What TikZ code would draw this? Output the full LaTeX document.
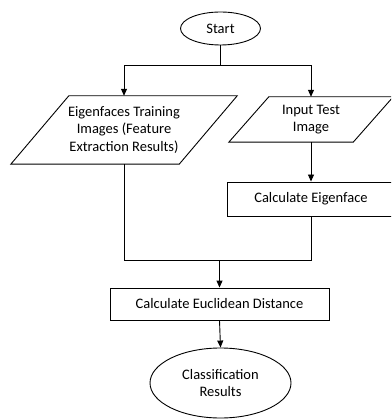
\documentclass[tikz,border=0pt]{standalone}
\usepackage{fontspec}
\setmainfont{Carlito}
\usetikzlibrary{shapes.geometric,arrows.meta}
\begin{document}
\begin{tikzpicture}[x=1pt,y=-1pt,
  every node/.style={font=\fontsize{14.5}{17.7}\selectfont, align=center, inner sep=0pt},
  line/.style={draw=black, line width=0.9pt},
  arr/.style={line, -{Triangle[length=7pt,width=6pt]}},
  box/.style={draw, line width=0.9pt, rectangle},
  oval/.style={draw, line width=0.9pt, ellipse}]
\useasboundingbox (0,0) rectangle (391,419);
\clip (0,0) rectangle (391,419);
% nodes
\node[oval, minimum width=80pt, minimum height=33pt] (start) at (220.5,28.5) {Start};
\node[minimum width=168pt, minimum height=68pt] (train) at (124,130) {Eigenfaces Training\\Images (Feature\\Extraction Results)};
\node[minimum width=124pt, minimum height=45pt] (input) at (311,119.5) {Input Test\\Image};
\node[box, minimum width=168pt, minimum height=34pt] (eig) at (311,199) {Calculate Eigenface};
\node[box, minimum width=219pt, minimum height=32pt] (euc) at (219.5,304) {Calculate Euclidean Distance};
\node[oval, minimum width=141pt, minimum height=70pt] (cls) at (220.5,383) {Classification\\Results};
% parallelogram outlines
\draw[line] ([xshift=29pt]train.north west) -- ([xshift=29pt]train.north east)
  -- ([xshift=-29pt]train.south east) -- ([xshift=-29pt]train.south west) -- cycle;
\draw[line] ([xshift=20pt]input.north west) -- ([xshift=20pt]input.north east)
  -- ([xshift=-20pt]input.south east) -- ([xshift=-20pt]input.south west) -- cycle;
% connectors
\coordinate (split) at (start.south |- 0,65);
\draw[line] (start.south) -- (split);
\draw[arr] (split) -| (train.north);
\draw[arr] (split) -| (input.north);
\draw[arr] (input.south) -- (eig.north);
\coordinate (join) at (euc.north |- 0,260);
\draw[line] (train.south) |- (join);
\draw[line] (eig.south) |- (join);
\draw[arr] (join) -- (euc.north);
\draw[arr] (euc.south) -- (cls.north);
\end{tikzpicture}
\end{document}
